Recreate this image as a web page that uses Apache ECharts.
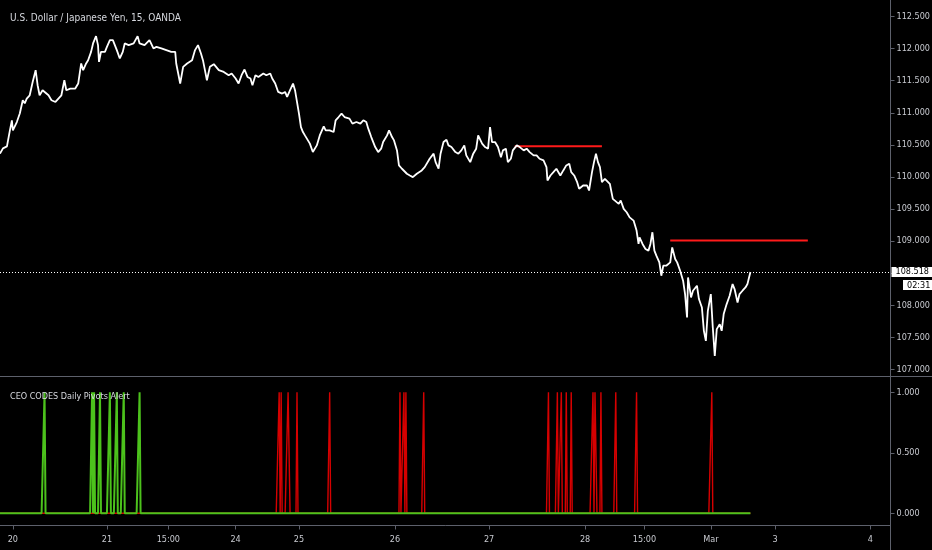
<!DOCTYPE html>
<html>
<head>
<meta charset="utf-8">
<script src="https://cdn.jsdelivr.net/npm/echarts@6/dist/echarts.min.js"></script>
<style>
html,body{margin:0;padding:0;background:#000;}
#chart{width:932px;height:550px;}
</style>
</head>
<body>
<div id="chart"></div>
<script>
// ---- data (x in 15-minute bar index) ----
const chartTitle = 'U.S. Dollar / Japanese Yen, 15, OANDA';
const indicatorTitle = 'CEO CODES Daily Pivots Alert';

const tickBars   = [13, 108, 170, 238, 302, 399, 494, 591, 651, 718, 783, 879];
const tickLabels = ['20', '21', '15:00', '24', '25', '26', '27', '28', '15:00', 'Mar', '3', '4'];

const priceTicks = [107, 107.5, 108, 108.5, 109, 109.5, 110, 110.5, 111, 111.5, 112, 112.5];
const alertTicks = [0, 0.5, 1];

const priceBars = [0,3,7,10,12,13,17,20,23,25,27,30,33,35,36,38,40,43,45,49,52,56,59,62,65,67,71,76,79,82,84,87,89,92,94,97,99,100,102,106,108,111,114,116,118,121,124,126,130,135,139,141,146,151,155,158,163,168,173,177,178,182,185,189,194,197,200,203,205,207,209,212,216,221,226,231,234,238,241,244,247,250,253,255,258,261,266,269,273,275,278,281,285,288,290,293,296,298,300,302,304,306,308,310,313,316,320,323,327,329,333,337,339,342,345,348,353,356,360,364,367,370,372,375,379,382,385,387,391,393,396,398,401,403,406,408,411,414,417,421,426,429,434,438,440,443,445,448,451,453,456,460,463,466,469,471,475,478,481,483,487,490,493,495,497,500,503,506,508,511,513,516,518,522,525,529,532,535,539,542,545,549,552,553,556,559,562,566,569,572,575,577,580,583,585,589,593,595,598,600,602,604,606,608,611,613,616,619,621,625,627,630,633,636,640,643,645,646,649,652,655,657,659,661,663,666,668,670,673,677,679,682,684,687,690,692,694,695,698,700,704,706,709,711,713,715,718,720,722,724,727,729,731,734,737,740,742,745,747,750,753,755,758];
const priceValues = [110.363,110.445,110.477,110.727,110.883,110.727,110.856,110.988,111.195,111.148,111.222,111.273,111.481,111.461,111.664,111.430,111.273,111.352,111.352,111.273,111.195,111.169,111.222,111.273,111.508,111.352,111.378,111.378,111.456,111.769,111.664,111.769,111.820,111.950,112.081,112.195,112.055,111.794,111.950,111.950,112.028,112.133,112.133,112.106,111.977,111.847,111.950,112.081,112.055,112.081,112.195,112.081,112.055,112.133,112.003,112.028,112.003,111.977,111.950,111.950,111.769,111.456,111.716,111.769,111.820,111.977,112.055,111.925,111.820,111.664,111.508,111.716,111.758,111.664,111.637,111.586,111.613,111.534,111.456,111.586,111.675,111.559,111.534,111.430,111.586,111.559,111.613,111.586,111.613,111.534,111.456,111.325,111.300,111.325,111.247,111.352,111.456,111.352,111.325,110.988,110.778,110.700,110.648,110.648,110.519,110.388,110.492,110.648,110.789,110.727,110.727,110.700,110.883,110.934,110.988,110.934,110.909,110.831,110.856,110.831,110.883,110.856,110.753,110.622,110.466,110.388,110.441,110.544,110.648,110.727,110.622,110.570,110.414,110.180,110.128,110.153,110.050,110.023,109.997,110.050,110.102,110.153,110.284,110.363,110.231,110.128,110.363,110.544,110.581,110.492,110.466,110.388,110.363,110.414,110.492,110.336,110.231,110.363,110.441,110.648,110.519,110.466,110.441,110.778,110.544,110.544,110.466,110.309,110.414,110.441,110.231,110.284,110.414,110.492,110.466,110.414,110.441,110.388,110.336,110.336,110.284,110.258,110.153,109.945,110.023,110.075,110.128,110.023,110.102,110.180,110.206,110.075,110.023,109.919,109.816,109.867,109.867,109.789,110.075,110.231,110.363,110.231,110.153,109.919,109.972,109.997,109.894,109.659,109.630,109.581,109.633,109.503,109.450,109.370,109.320,109.164,108.956,109.059,108.956,108.878,108.852,108.956,109.138,108.852,108.773,108.669,108.461,108.617,108.617,108.669,108.903,108.722,108.669,108.539,108.383,108.175,107.809,108.434,108.122,108.227,108.305,108.097,107.966,107.602,107.445,107.914,108.175,107.653,107.211,107.628,107.706,107.602,107.863,108.019,108.148,108.331,108.253,108.044,108.175,108.227,108.278,108.331,108.518];

const pivotStartBars = [520, 677];
const pivotEndBars   = [608, 816];
const pivotLevels    = [110.480, 109.010];

const buyAlertBars  = [45, 93, 95, 101, 111, 118, 125, 141];
const sellAlertBars = [282, 284, 291, 292, 300, 333, 404, 408, 410, 428, 554, 563, 567, 572, 577, 599, 601, 602, 607, 622, 643, 719];

const lastPrice = 108.518;
const lastBar = 758;
const barCountdown = '02:31';

// ---- build ----
const FONT = "'Liberation Sans Narrow', 'DejaVu Sans Condensed', 'Roboto', sans-serif";
const AXIS_COLOR = '#5d606b';
const LABEL_COLOR = '#c8cad0';
const X_MAX = 899.5;

const priceData = priceBars.map((b, i) => [b, priceValues[i]]);
function alertSeriesData(bars) {
  const out = [];
  for (let b = 0; b <= lastBar; b++) out.push([b, bars.includes(b) ? 1 : 0]);
  return out;
}
const pivotSeries = pivotLevels.map((lvl, i) => ({
  type: 'line', xAxisIndex: 0, yAxisIndex: 0, silent: true,
  data: [[pivotStartBars[i], lvl], [pivotEndBars[i], lvl]],
  showSymbol: false, lineStyle: { color: '#ff1a1a', width: 2 }, z: 3
}));

const chart = echarts.init(document.getElementById('chart'), null, { renderer: 'canvas' });
chart.setOption({
  backgroundColor: '#000',
  animation: false,
  textStyle: { fontFamily: FONT },
  title: [
    { text: chartTitle, left: 5, top: 8, textStyle: { color: '#d6d8de', fontSize: 10, fontWeight: 'normal', fontFamily: FONT } },
    { text: indicatorTitle, left: 5, top: 387, textStyle: { color: '#d6d8de', fontSize: 9, fontWeight: 'normal', fontFamily: FONT } }
  ],
  grid: [
    { left: 0, right: 41.5, top: 0, height: 376, containLabel: false, outerBoundsMode: 'none' },
    { left: 0, right: 41.5, top: 377, bottom: 24.5, containLabel: false, outerBoundsMode: 'none' }
  ],
  xAxis: [
    { type: 'value', gridIndex: 0, min: 0, max: X_MAX, show: false, splitLine: { show: false } },
    { type: 'value', gridIndex: 1, min: 0, max: X_MAX, splitLine: { show: false },
      axisLine: { show: true, onZero: false, lineStyle: { color: AXIS_COLOR } },
      axisTick: { show: true, customValues: tickBars, length: 4, lineStyle: { color: AXIS_COLOR } },
      axisLabel: { customValues: tickBars, color: LABEL_COLOR, fontSize: 9, margin: 10, fontFamily: FONT,
        formatter: v => tickLabels[tickBars.indexOf(v)] } }
  ],
  yAxis: [
    { type: 'value', gridIndex: 0, position: 'right', min: 106.898, max: 112.758, splitLine: { show: false },
      axisLine: { show: false, onZero: false },
      axisTick: { show: true, customValues: priceTicks, length: 4, lineStyle: { color: AXIS_COLOR } },
      axisLabel: { customValues: priceTicks, color: LABEL_COLOR, fontSize: 9, margin: 6, fontFamily: FONT,
        formatter: v => v.toFixed(3) } },
    { type: 'value', gridIndex: 1, position: 'right', min: -0.101, max: 1.126, splitLine: { show: false },
      axisLine: { show: false, onZero: false },
      axisTick: { show: true, customValues: alertTicks, length: 4, lineStyle: { color: AXIS_COLOR } },
      axisLabel: { customValues: alertTicks, color: LABEL_COLOR, fontSize: 9, margin: 6, fontFamily: FONT,
        formatter: v => v.toFixed(3) } }
  ],
  series: [
    {
      name: 'USDJPY', type: 'line', xAxisIndex: 0, yAxisIndex: 0, data: priceData,
      showSymbol: false, lineStyle: { color: '#ffffff', width: 1.8 }, z: 4,
      markLine: {
        silent: true, symbol: 'none',
        data: [{ yAxis: lastPrice }],
        lineStyle: { color: '#ffffff', width: 1, type: [1, 2] },
        label: { show: true, position: 'end', distance: 1, formatter: lastPrice.toFixed(3),
          backgroundColor: '#ffffff', color: '#000', padding: [1, 4, 0, 4], fontSize: 9, fontFamily: FONT }
      }
    },
    ...pivotSeries,
    {
      name: 'Sell alert', type: 'line', xAxisIndex: 1, yAxisIndex: 1, data: alertSeriesData(sellAlertBars),
      showSymbol: false, lineStyle: { color: '#d60000', width: 1.4 }, z: 2
    },
    {
      name: 'Buy alert', type: 'line', xAxisIndex: 1, yAxisIndex: 1, data: alertSeriesData(buyAlertBars),
      showSymbol: false, lineStyle: { color: '#4cc21c', width: 2 }, z: 3
    }
  ],
  graphic: [
    { type: 'line', silent: true, shape: { x1: 0, y1: 376.5, x2: 932, y2: 376.5 }, style: { stroke: AXIS_COLOR, lineWidth: 1 } },
    { type: 'line', silent: true, shape: { x1: 890.5, y1: 0, x2: 890.5, y2: 550 }, style: { stroke: AXIS_COLOR, lineWidth: 1 } },
    { type: 'text', silent: true, x: 903, y: 280, z: 100,
      style: { text: barCountdown, fill: '#000', backgroundColor: '#ffffff', padding: [1, 4, 0, 4], fontSize: 9, fontFamily: FONT } }
  ]
});
</script>
</body>
</html>
